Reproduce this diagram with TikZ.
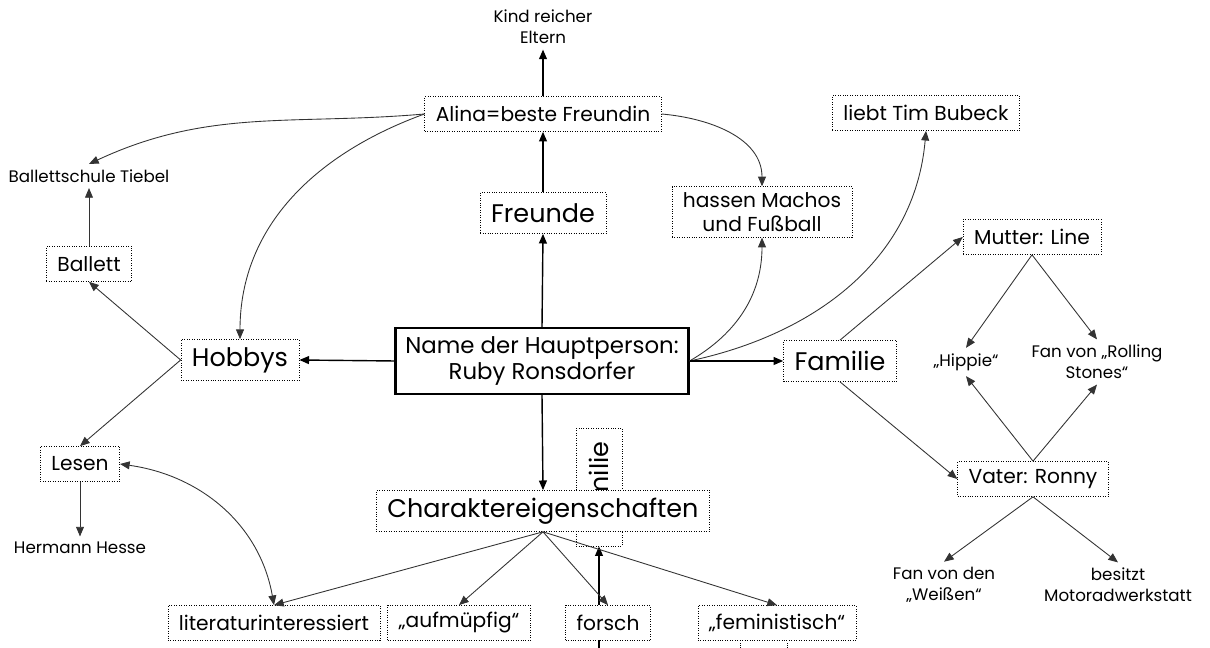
\documentclass[tikz,border=0pt]{standalone}
\usepackage{fontspec}
\setmainfont{Poppins}
\usetikzlibrary{arrows.meta}

\tikzstyle{box} = [draw, densely dotted, fill=white, rectangle, inner xsep=0.22cm,
    minimum height=0.7cm, font=\fontsize{11.5}{13.5}\selectfont, align=center]
\tikzstyle{bigbox} = [box, minimum height=0.82cm, font=\fontsize{14.5}{17}\selectfont]
\tikzstyle{mainbox} = [draw, line width=1.2pt, fill=white, rectangle,
    minimum width=5.86cm, minimum height=1.32cm, font=\fontsize{13}{14.7}\selectfont, align=center]
\tikzstyle{note} = [inner sep=3pt, font=\fontsize{9.5}{12}\selectfont, align=center]
\tikzstyle{link} = [draw, line width=0.5pt, black!80, ->]
\tikzstyle{mainlink} = [draw, line width=0.8pt, ->]

\begin{document}
\begin{tikzpicture}[x=0.02cm, y=0.02cm, >={Triangle[length=5.5pt,width=4.5pt]}]
    \useasboundingbox (0,0) rectangle (1210,648);
    \node [bigbox, rotate=90, minimum width=2.36cm, minimum height=0.92cm] (famtwo) at (599,161) {Familie};
    \coordinate (bottom) at (599,0);
    \draw [mainlink] (bottom) -- (famtwo);

    \node [note] (kind) at (543,621) {Kind reicher\\Eltern};
    \node [box] (alina) at (543,534) {Alina=beste Freundin};
    \node [box] (tim) at (926,535) {liebt Tim Bubeck};
    \node [note] (schule) at (89,472) {Ballettschule Tiebel};
    \node [bigbox] (freunde) at (543,435) {Freunde};
    \node [box] (machos) at (762,436) {hassen Machos\\und Fußball};
    \node [box] (mutter) at (1032,411) {Mutter: Line};
    \node [box] (ballett) at (89,384) {Ballett};
    \node [bigbox] (hobbys) at (240,288) {Hobbys};
    \node [mainbox] (main) at (542,287) {Name der Hauptperson:\\Ruby Ronsdorfer};
    \node [bigbox] (familie) at (840,287) {Familie};
    \node [note] (hippie) at (966,286) {„Hippie“};
    \node [note] (stones) at (1097,286) {Fan von „Rolling\\Stones“};
    \node [box] (lesen) at (80,184) {Lesen};
    \node [bigbox] (charakter) at (543,137) {Charaktereigenschaften};
    \node [box] (vater) at (1033,169) {Vater: Ronny};
    \node [note] (hesse) at (80,100) {Hermann Hesse};
    \node [note] (weissen) at (944,63) {Fan von den\\„Weißen“};
    \node [note] (motor) at (1118,63) {besitzt\\Motoradwerkstatt};
    \node [box] (literatur) at (274,25) {literaturinteressiert};
    \node [box] (aufm) at (459,25) {„aufmüpfig“};
    \node [box] (forsch) at (608,25) {forsch};
    \node [box] (femin) at (777,25) {„feministisch“};
    \draw [densely dotted, thin] (740,0) -- (740,5);
    \draw [densely dotted, thin] (787,0) -- (787,5);

    \draw [mainlink] (main.north) -- (freunde.south);
    \draw [mainlink] (freunde.north) -- (alina.south);
    \draw [mainlink] (alina.north) -- (kind.south);
    \draw [link] (alina.west) to[out=185, in=25] (schule.north);
    \draw [link] (alina.west) to[out=200, in=90] (hobbys.north);
    \draw [link] (alina.east) to[out=-5, in=90] (machos.north);
    \draw [link] (main.east) to[out=30, in=270] (machos.south);
    \draw [link] (main.east) to[out=12, in=265] (tim.south);
    \draw [mainlink] (main.east) -- (familie.west);
    \draw [link] (familie.north) -- (mutter.west);
    \draw [link] (familie.south) -- (vater.west);
    \draw [link] (mutter.south) -- (hippie.north);
    \draw [link] (mutter.south) -- (stones.north);
    \draw [link] (vater.north) -- (hippie.south);
    \draw [link] (vater.north) -- (stones.south);
    \draw [link] (vater.south) -- (weissen.north);
    \draw [link] (vater.south) -- (motor.north);
    \draw [mainlink] (main.west) -- (hobbys.east);
    \draw [link] (hobbys.west) -- (ballett.south);
    \draw [link] (hobbys.west) -- (lesen.north);
    \draw [link] (ballett.north) -- (schule.south);
    \draw [link] (lesen.south) -- (hesse.north);
    \draw [link, <->] (lesen.east) to[out=-8, in=100] (literatur.north);
    \draw [mainlink] (main.south) -- (charakter.north);
    \draw [link] (charakter.south) -- (literatur.north);
    \draw [link] (charakter.south) -- (aufm.north);
    \draw [link] (charakter.south) -- (forsch.north);
    \draw [link] (charakter.south) -- (femin.north);
\end{tikzpicture}
\end{document}
